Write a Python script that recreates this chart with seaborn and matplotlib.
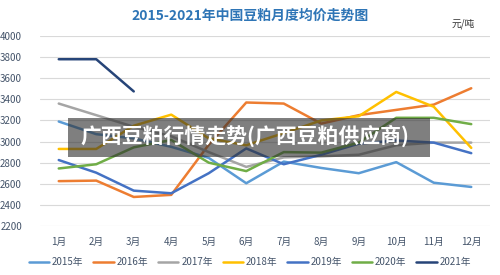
import numpy as np
import pandas as pd
import matplotlib
matplotlib.use("Agg")
import matplotlib.pyplot as plt
import seaborn as sns

months = ["1月", "2月", "3月", "4月", "5月", "6月", "7月", "8月", "9月", "10月", "11月", "12月"]
y2015 = [3190, 3070, 3030, 2950, 2845, 2605, 2810, 2750, 2700, 2805, 2610, 2570]
y2016 = [2625, 2630, 2475, 2495, 2970, 3370, 3360, 3170, 3250, 3300, 3350, 3505]
y2017 = [3360, 3250, 3140, 3050, 2900, 2760, 2850, 2860, 2875, 2965, 2990, 2990]
y2018 = [2930, 2930, 3150, 3255, 3030, 2965, 3080, 3200, 3240, 3470, 3330, 2940]
y2019 = [2825, 2705, 2535, 2510, 2700, 2935, 2785, 2875, 2980, 3010, 2990, 2890]
y2020 = [2745, 2785, 2945, 3015, 2800, 2720, 2900, 2895, 2990, 3225, 3225, 3165]
y2021 = [3780, 3780, 3475]
years = ["2015年", "2016年", "2017年", "2018年", "2019年", "2020年", "2021年"]
series = [y2015, y2016, y2017, y2018, y2019, y2020, y2021]
colors = ["#5B9BD5", "#ED7D31", "#A5A5A5", "#FFC000", "#4472C4", "#70AD47", "#264478"]
yticks = [2200, 2400, 2600, 2800, 3000, 3200, 3400, 3600, 3800, 4000]

rows = []
for yr, vals in zip(years, series):
    for i, v in enumerate(vals):
        rows.append({"year": yr, "m": i, "price": v})
df = pd.DataFrame(rows)

sns.set_theme(style="white")
plt.rcParams['font.family'] = ['Noto Sans CJK SC', 'DejaVu Sans']

fig = plt.figure(figsize=(5, 2.75), dpi=100)
ax = fig.add_axes([40/500, 1-226/275, 450/500, 190/275])
sns.lineplot(data=df, x="m", y="price", hue="year", hue_order=years,
             palette=colors, linewidth=1.8, ax=ax, legend=False, sort=False)

ax.set_xlim(-0.5, 11.5)
ax.set_ylim(2200, 4000)
ax.set_yticks(yticks)
ax.set_yticklabels([str(t) for t in yticks])
ax.set_xticks(range(12))
ax.set_xticklabels(months)
tc = "#44546A"
ax.tick_params(axis='y', colors=tc, labelsize=7, length=0, pad=13)
ax.tick_params(axis='x', colors=tc, labelsize=7, length=0, pad=8)
ax.grid(axis='y', color="#D9D9D9", linewidth=0.8)
ax.set_axisbelow(True)
for s in ax.spines.values():
    s.set_visible(False)
ax.set_xlabel("")
ax.set_ylabel("")

fig.text(0.5, 1-16/275, "2015-2021年中国豆粕月度均价走势图", ha="center", va="center",
         fontsize=10, fontweight="bold", color="#2E75B6")
fig.text(463/500, 1-24/275, "元/吨", ha="center", va="center", fontsize=7, color="#333333")

handles = [plt.Line2D([], [], color=c, linewidth=1.8) for c in colors]
fig.legend(handles, years, loc="center", bbox_to_anchor=(0.5, 1-262/275), ncol=7,
           frameon=False, fontsize=7, handlelength=2.1, handletextpad=0.3,
           columnspacing=1.0, labelcolor=tc)

# overlay banner
rect = plt.Rectangle((68/500, 1-157/275), (430-68)/500, 39/275, transform=fig.transFigure,
                     facecolor="#303030", alpha=0.62, edgecolor="none", zorder=5)
fig.patches.append(rect)
fig.text(80/500, 1-136/275, "广西豆粕行情走势(广西豆粕供应商)", ha="left", va="center",
         fontsize=15, fontweight="bold", color="white", zorder=6)

fig.savefig("out.png", dpi=100)
